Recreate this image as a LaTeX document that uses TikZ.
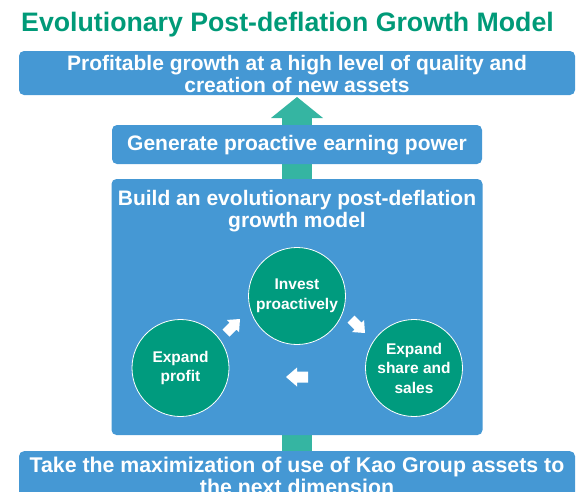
\documentclass[tikz,border=0pt]{standalone}
\usepackage{fontspec}
\setmainfont{Liberation Sans}
\usetikzlibrary{calc}
\definecolor{boxblue}{HTML}{4598D4}
\definecolor{arrowteal}{HTML}{35B5A2}
\definecolor{circgreen}{HTML}{009B7E}
\definecolor{titlegreen}{HTML}{009A78}
\begin{document}
\begin{tikzpicture}[x=1pt,y=-1pt,
  bluebox/.style={fill=boxblue, rounded corners=5pt, inner sep=0pt},
  boxtext/.style={text=white, align=center, inner sep=0pt, font=\fontsize{21}{22.5}\selectfont\bfseries},
  circ/.style={circle, fill=circgreen, draw=white, line width=0.8pt, minimum size=97pt, inner sep=0pt,
    text=white, align=center, font=\fontsize{15.5}{19.5}\selectfont\bfseries},
  cyclearrow/.pic={\fill[white] (-11,-5.5) -- (0,-5.5) -- (0,-9.5) -- (11,0) -- (0,9.5) -- (0,5.5) -- (-11,5.5) -- cycle;}]
\useasboundingbox (0,0) rectangle (576,491);
% title
\node[text=titlegreen, inner sep=0pt, font=\fontsize{26.7}{28}\selectfont\bfseries] (title) at (287.5,25) {Evolutionary Post-deflation Growth Model};
% box centres
\coordinate (topc) at (297,73);
\coordinate (genc) at (297,144.5);
\coordinate (buildc) at (297,307);
% vertical arrow behind the boxes
\coordinate (tip) at (297,97);
\coordinate (hl) at (271,118);
\coordinate (hr) at (323,118);
\coordinate (sl) at (282,118);
\coordinate (sr) at (312,460);
\fill[arrowteal] (sl) rectangle (sr);
\fill[arrowteal] (tip) -- (hl) -- (hr) -- cycle;
\node[bluebox, minimum width=556pt, minimum height=44pt] (top) at (topc) {};
\node[bluebox, minimum width=370pt, minimum height=39pt] (gen) at (genc) {};
\node[bluebox, minimum width=371pt, minimum height=256pt] (build) at (buildc) {};
\node[bluebox, minimum width=556pt, minimum height=60pt, anchor=north] (bottom) at (297,451) {};
% texts
\node[boxtext] (toptext) at (297,74) {Profitable growth at a high level of quality and\\creation of new assets};
\node[boxtext] (gentext) at (297,145) {Generate proactive earning power};
\node[boxtext] (buildtext) at (297,211) {Build an evolutionary post-deflation\\growth model};
\node[boxtext, font=\fontsize{21.3}{22}\selectfont\bfseries] (bottomtext) at (297,475.5) {Take the maximization of use of Kao Group assets to\\the next dimension};
% circles
\node[circ] (invest) at (297,296) {Invest\\proactively};
\node[circ] (profit) at (180.5,368) {Expand\\profit};
\node[circ] (share) at (414,368) {Expand\\share and\\sales};
% cycle arrows
\pic[rotate=45, scale=0.9] (a1) at (233,326) {cyclearrow};
\pic[rotate=-45, scale=0.9] (a2) at (358,326) {cyclearrow};
\pic[rotate=180] (a3) at (297,377) {cyclearrow};
\end{tikzpicture}
\end{document}
